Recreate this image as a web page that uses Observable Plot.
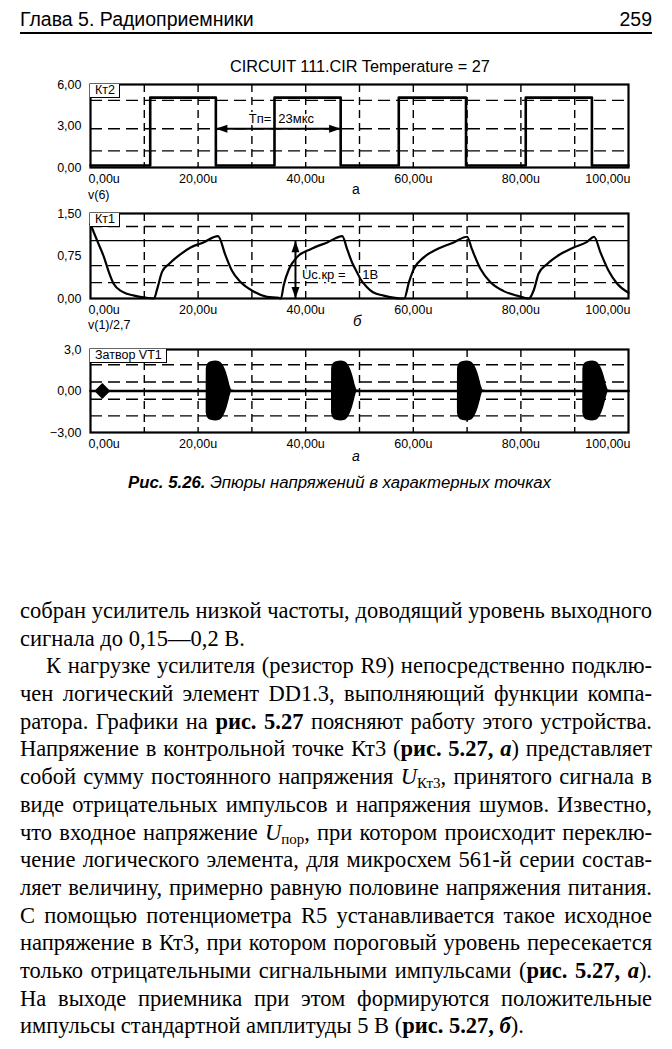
<!DOCTYPE html>
<html><head><meta charset="utf-8">
<script src="https://cdn.jsdelivr.net/npm/d3@7"></script>
<script src="https://cdn.jsdelivr.net/npm/@observablehq/plot@0.6"></script>
<style>
html,body{margin:0;padding:0;background:#fff;}
body{width:672px;height:1049px;position:relative;overflow:hidden;font-family:"Liberation Sans",Arial,sans-serif;color:#000;}
.abs{position:absolute;white-space:nowrap;}
.lbl{position:absolute;font-size:12.5px;line-height:13px;padding:0 4px 0 5px;border-right:1.5px solid #000;border-bottom:1.5px solid #000;background:#fff;white-space:nowrap;}
.txt{position:absolute;left:20px;top:597px;width:632px;font-family:"Liberation Serif","Times New Roman",serif;font-size:22.5px;line-height:27.7px;}
.txt div{height:27.7px;text-align:justify;text-align-last:justify;}
.txt div.last{text-align-last:left;}
.txt div.ind{text-indent:26px;}
sub{font-size:15px;line-height:0;vertical-align:-4px;font-style:normal;}
</style></head><body>

<div class="abs" style="left:20px;top:8px;font-size:19.5px;">Глава 5. Радиоприемники</div>
<div class="abs" style="right:20px;top:8px;font-size:19.5px;">259</div>
<div class="abs" style="left:20px;top:32px;width:632px;height:2px;background:#000;"></div>
<div class="abs" style="left:0;width:720px;top:57px;text-align:center;font-size:16.3px;">CIRCUIT 111.CIR Temperature = 27</div>

<div id="pa" class="abs" style="left:0;top:74px;width:672px;"></div>
<div id="pb" class="abs" style="left:0;top:203px;width:672px;"></div>
<div id="pc" class="abs" style="left:0;top:339px;width:672px;"></div>

<div class="lbl" style="left:90px;top:84px;">Кт2</div>
<div class="lbl" style="left:90px;top:213px;">Кт1</div>
<div class="lbl" style="left:90px;top:349px;">Затвор VT1</div>

<div class="abs" style="left:88px;top:188px;font-size:12.5px;">v(6)</div>
<div class="abs" style="left:352px;top:181px;font-size:14px;">а</div>
<div class="abs" style="left:88px;top:318px;font-size:12.5px;">v(1)/2,7</div>
<div class="abs" style="left:353px;top:312px;font-size:15px;font-style:italic;">б</div>
<div class="abs" style="left:352px;top:448px;font-size:14px;font-style:italic;">а</div>

<div class="abs" style="left:0;width:679px;top:473px;text-align:center;font-size:16.8px;font-style:italic;"><b>Рис. 5.26.</b> Эпюры напряжений в характерных точках</div>

<div class="txt">
<div>собран усилитель низкой частоты, доводящий уровень выходного</div>
<div class="last">сигнала до 0,15—0,2 В.</div>
<div class="ind">К нагрузке усилителя (резистор R9) непосредственно подклю-</div>
<div>чен логический элемент DD1.3, выполняющий функции компа-</div>
<div>ратора. Графики на <b>рис. 5.27</b> поясняют работу этого устройства.</div>
<div>Напряжение в контрольной точке Кт3 (<b>рис. 5.27, <i>а</i></b>) представляет</div>
<div>собой сумму постоянного напряжения <i>U</i><sub>Кт3</sub>, принятого сигнала в</div>
<div>виде отрицательных импульсов и напряжения шумов. Известно,</div>
<div>что входное напряжение <i>U</i><sub>пор</sub>, при котором происходит переклю-</div>
<div>чение логического элемента, для микросхем 561-й серии состав-</div>
<div>ляет величину, примерно равную половине напряжения питания.</div>
<div>С помощью потенциометра R5 устанавливается такое исходное</div>
<div>напряжение в Кт3, при котором пороговый уровень пересекается</div>
<div>только отрицательными сигнальными импульсами (<b>рис. 5.27, <i>а</i></b>).</div>
<div>На выходе приемника при этом формируются положительные</div>
<div class="last">импульсы стандартной амплитуды 5 В (<b>рис. 5.27, <i>б</i></b>).</div>
</div>

<script>
// ---- shared axis data ----
const xTicks = [0, 20, 40, 60, 80, 100];
const xTickLabels = ["0,00u", "20,00u", "40,00u", "60,00u", "80,00u", "100,00u"];
const gridX = [10, 20, 30, 40, 50, 60, 70, 80, 90];

// ---- chart а: Кт2, v(6) ----
const aYTicks = [0, 3, 6];
const aYLabels = ["0,00", "3,00", "6,00"];
const aGridY = [1.2, 2.8, 4.85];
const kt2Time = [0, 11.1, 23.3, 34.2, 46.5, 57.3, 69.8, 80.9, 93.2, 100];
const kt2Volt = [0.15, 5.05, 0.15, 5.05, 0.15, 5.05, 0.15, 5.05, 0.15, 0.15];
const tpStart = 23.3, tpEnd = 46.5, tpLevel = 2.8;
const tpLabelLeft = {t: 33.6, v: 3.5, label: "Tп="};
const tpLabelRight = {t: 34.9, v: 3.5, label: "23мкс"};

// ---- chart б: Кт1, v(1)/2,7 ----
const bYTicks = [0, 0.75, 1.5];
const bYLabels = ["0,00", "0,75", "1,50"];
const bGridY = [0.28, 0.58, 1.27];
const ucLevel = 1.02;
const ucArrowTime = 38.1;
const kt1Time = [0, 1.24, 2.5, 3.4, 4.3, 5.9, 8.1, 10.5, 11.8, 12.4, 13.3, 14.6, 16.7, 18.6, 21.0, 23.7,
  25.1, 26.3, 27.9, 30.4, 32.8, 35.0, 35.4, 35.9, 36.9, 38.4, 40.9, 44.0, 46.8,
  47.7, 48.6, 49.6, 50.2, 51.4, 52.5, 54.5, 57.6, 58.3, 59.2, 60.1, 62.0, 64.4, 67.5, 70.0,
  70.9, 72.5, 74.3, 76.8, 79.3, 81.5, 82.4, 83.3, 84.9, 87.3, 89.8, 92.3, 93.6,
  94.8, 96.3, 97.9, 100];
const kt1Volt = [1.31, 1.02, 0.73, 0.47, 0.26, 0.12, 0.05, 0.01, 0.0, 0.17, 0.47, 0.61, 0.78, 0.9, 0.99, 1.1,
  0.76, 0.49, 0.29, 0.12, 0.03, 0.01, 0.0, 0.23, 0.52, 0.73, 0.87, 0.99, 1.1,
  0.87, 0.64, 0.45, 0.34, 0.2, 0.11, 0.05, 0.0, 0.0, 0.29, 0.52, 0.73, 0.87, 0.99, 1.09,
  0.87, 0.52, 0.29, 0.13, 0.05, 0.0, 0.15, 0.44, 0.61, 0.78, 0.9, 1.0, 1.09,
  0.81, 0.49, 0.26, 0.1];
const ucLabelLeft = {t: 39.3, v: 0.42, label: "Uc.кр ="};
const ucLabelRight = {t: 50.5, v: 0.42, label: "1В"};

// ---- chart в: Затвор VT1 ----
const cYTicks = [-3, 0, 3];
const cYLabels = ["−3,00", "0,00", "3,0"];
const cGridY = [-1.8, -0.6, 0.65, 1.9];
const gateTime = [0, 100];
const gateVolt = [0, 0];
const markerTime = 2.2;
const burstAmp = [0.05, 1.6, 1.95, 2.12, 2.16, 2.12, 1.9, 1.6, 1.3, 0.75, 0.3, 0.08, 0.05];
const burst1Time = [21.5, 21.52, 21.8, 22.4, 23.3, 24.0, 24.6, 25.0, 25.3, 25.7, 26.0, 26.25, 26.7];
const burst2Time = [44.8, 44.82, 45.1, 45.7, 46.6, 47.3, 47.9, 48.3, 48.6, 49.0, 49.3, 49.55, 50.0];
const burst3Time = [68.2, 68.22, 68.5, 69.1, 70.0, 70.7, 71.3, 71.7, 72.0, 72.4, 72.7, 72.95, 73.4];
const burst4Time = [91.5, 91.52, 91.8, 92.4, 93.3, 94.0, 94.6, 95.0, 95.3, 95.7, 96.0, 96.25, 96.7];

// ---- helpers ----
const FONT = "'Liberation Sans', Arial, sans-serif";
const common = {
  width: 672, marginLeft: 90, marginRight: 44, marginTop: 10, marginBottom: 30,
  style: {fontFamily: FONT, fontSize: "12.5px", color: "#000", background: "transparent", overflow: "visible"}
};
const headSymbol = {
  draw(ctx, size) {
    const r = Math.sqrt(size / Math.PI);
    const L = 2.1 * r, w = 0.72 * r;
    ctx.moveTo(0, 0); ctx.lineTo(w, L); ctx.lineTo(-w, L); ctx.closePath();
  }
};
const fmtX = d => xTickLabels[xTicks.indexOf(d)];
function xAxes() {
  const o = {tickSize: 0, tickPadding: 7, tickFormat: fmtX, label: null, fontSize: 12.5};
  return [
    Plot.axisX(xTicks.slice(0, 1), {...o, textAnchor: "start", dx: -2}),
    Plot.axisX(xTicks.slice(1, -1), {...o}),
    Plot.axisX(xTicks.slice(-1), {...o, textAnchor: "end", dx: 2})
  ];
}
function yAxis(ticks, labels) {
  return Plot.axisY(ticks, {tickSize: 0, tickPadding: 9, label: null, fontSize: 12.5,
    tickFormat: d => labels[ticks.indexOf(d)]});
}
function grids(gy) {
  return [
    Plot.ruleY(gy, {stroke: "#000", strokeWidth: 1.4, strokeDasharray: "12,6"}),
    Plot.ruleX(gridX, {stroke: "#000", strokeWidth: 1.4, strokeDasharray: "8,5"})
  ];
}
const halo = {stroke: "white", strokeWidth: 4, fill: "black", fontSize: 13};

// ---- chart а ----
const aData = kt2Time.map((t, i) => ({t, v: kt2Volt[i]}));
const plotA = Plot.plot({
  ...common, height: 123,
  x: {domain: [0, 100]}, y: {domain: [0, 6]},
  marks: [
    ...grids(aGridY),
    Plot.text([tpLabelLeft], {x: "t", y: "v", text: "label", textAnchor: "end", ...halo}),
    Plot.text([tpLabelRight], {x: "t", y: "v", text: "label", textAnchor: "start", ...halo}),
    Plot.line(aData, {x: "t", y: "v", curve: "step-after", strokeWidth: 2.6, stroke: "#000"}),
    Plot.ruleY([{y: tpLevel, x1: tpStart, x2: tpEnd}], {y: "y", x1: "x1", x2: "x2", strokeWidth: 2, stroke: "#000"}),
    Plot.dot([{t: tpStart, v: tpLevel, r: -90}, {t: tpEnd, v: tpLevel, r: 90}],
      {x: "t", y: "v", rotate: "r", symbol: headSymbol, r: 5.5, fill: "#000", stroke: "none"}),
    Plot.frame({stroke: "#000", strokeWidth: 2.2}),
    yAxis(aYTicks, aYLabels),
    ...xAxes()
  ]
});
document.getElementById("pa").appendChild(plotA);

// ---- chart б ----
const bData = kt1Time.map((t, i) => ({t, v: kt1Volt[i]}));
const plotB = Plot.plot({
  ...common, height: 125,
  x: {domain: [0, 100]}, y: {domain: [0, 1.5]},
  marks: [
    ...grids(bGridY),
    Plot.ruleY([ucLevel], {stroke: "#000", strokeWidth: 1.3}),
    Plot.text([ucLabelLeft], {x: "t", y: "v", text: "label", textAnchor: "start", ...halo}),
    Plot.text([ucLabelRight], {x: "t", y: "v", text: "label", textAnchor: "start", ...halo}),
    Plot.line(bData, {x: "t", y: "v", curve: "monotone-x", strokeWidth: 2.2, stroke: "#000"}),
    Plot.ruleX([{x: ucArrowTime, y1: 0, y2: ucLevel}], {x: "x", y1: "y1", y2: "y2", strokeWidth: 2, stroke: "#000"}),
    Plot.dot([{t: ucArrowTime, v: ucLevel, r: 0}, {t: ucArrowTime, v: 0, r: 180}],
      {x: "t", y: "v", rotate: "r", symbol: headSymbol, r: 5.5, fill: "#000", stroke: "none"}),
    Plot.frame({stroke: "#000", strokeWidth: 2.2}),
    yAxis(bYTicks, bYLabels),
    ...xAxes()
  ]
});
document.getElementById("pb").appendChild(plotB);

// ---- chart в ----
const bursts = [burst1Time, burst2Time, burst3Time, burst4Time];
const burstRows = bursts.flatMap((times, k) => times.map((t, i) => ({burst: k, t, a: burstAmp[i]})));
const gateData = gateTime.map((t, i) => ({t, v: gateVolt[i]}));
const plotC = Plot.plot({
  ...common, height: 123,
  x: {domain: [0, 100]}, y: {domain: [-3, 3]},
  marks: [
    ...grids(cGridY),
    Plot.line(gateData, {x: "t", y: "v", strokeWidth: 2.6, stroke: "#000"}),
    Plot.areaY(burstRows, {x: "t", y1: d => -d.a, y2: "a", z: "burst", fill: "#000", curve: "monotone-x"}),
    Plot.dot([{t: markerTime, v: 0}], {x: "t", y: "v", symbol: "diamond2", r: 6.2, fill: "#000", stroke: "#000"}),
    Plot.frame({stroke: "#000", strokeWidth: 2.2}),
    yAxis(cYTicks, cYLabels),
    ...xAxes()
  ]
});
document.getElementById("pc").appendChild(plotC);
</script>
</body></html>
